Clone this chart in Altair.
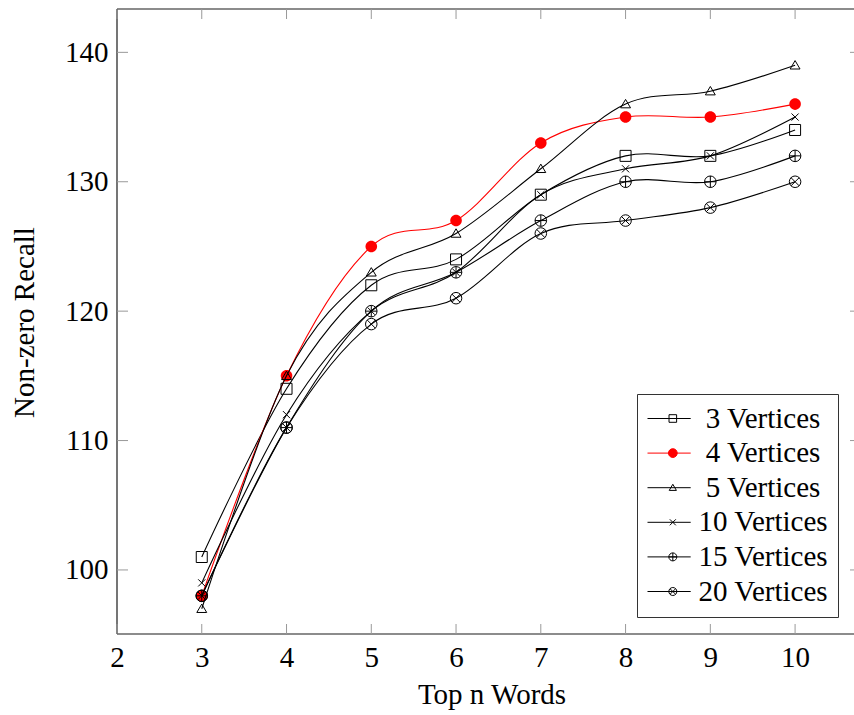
import altair as alt
import pandas as pd

# ---------------- data ----------------
x_vals = [3, 4, 5, 6, 7, 8, 9, 10]
series_names = ["3 Vertices", "4 Vertices", "5 Vertices", "10 Vertices", "15 Vertices", "20 Vertices"]
v3 = [101, 114, 122, 124, 129, 132, 132, 134]
v4 = [98, 115, 125, 127, 133, 135, 135, 136]
v5 = [97, 115, 123, 126, 131, 136, 137, 139]
v10 = [99, 112, 120, 123, 129, 131, 132, 135]
v15 = [98, 111, 120, 123, 127, 130, 130, 132]
v20 = [98, 111, 119, 121, 126, 127, 128, 130]
series_values = [v3, v4, v5, v10, v15, v20]
x_ticks = [2, 3, 4, 5, 6, 7, 8, 9, 10]
y_ticks = [100, 110, 120, 130, 140]

# ---------------- style ----------------
series_colors = ["black", "red", "black", "black", "black", "black"]
series_fills = ["transparent", "red", "transparent", "transparent", "transparent", "transparent"]
series_filled = [False, True, False, False, False, False]

W, H = 737, 625
X_DOMAIN = [2, 10.695]
Y_DOMAIN = [95.05, 143.35]
FONT = "Liberation Serif"
FS = 29


def circ(cx, r):
    return (f"M{cx + r:.3f},0A{r:.3f},{r:.3f} 0 1,1 {cx - r:.3f},0"
            f"A{r:.3f},{r:.3f} 0 1,1 {cx + r:.3f},0Z")


def square(cx, h):
    return f"M{cx - h:.3f},{-h:.3f}H{cx + h:.3f}V{h:.3f}H{cx - h:.3f}Z"


def tri(cx, h):
    return f"M{cx:.3f},{-h * 0.95:.3f}L{cx + h:.3f},{h * 0.75:.3f}H{cx - h:.3f}Z"


def cross(cx, h):
    return f"M{cx - h:.3f},{-h:.3f}L{cx + h:.3f},{h:.3f}M{cx - h:.3f},{h:.3f}L{cx + h:.3f},{-h:.3f}"


def oplus(cx, r):
    return circ(cx, r) + f"M{cx - r:.3f},0H{cx + r:.3f}M{cx:.3f},{-r:.3f}V{r:.3f}"


def otimes(cx, r):
    d = r * 0.7071
    return circ(cx, r) + (f"M{cx - d:.3f},{-d:.3f}L{cx + d:.3f},{d:.3f}"
                          f"M{cx - d:.3f},{d:.3f}L{cx + d:.3f},{-d:.3f}")


plot_paths = [square(0, 1.0), circ(0, 1.05), tri(0, 0.9), cross(0, 0.65), oplus(0, 1.05), otimes(0, 1.05)]
LC = 2.83
leg_line = "M-3.5,0H7.3"
legend_paths = [
    leg_line + square(LC, 0.95),
    leg_line + circ(LC, 1.1),
    leg_line + tri(LC, 0.9),
    leg_line + cross(LC, 0.75),
    leg_line + oplus(LC, 1.0),
    leg_line + otimes(LC, 1.0),
]

rows = []
for name, vals in zip(series_names, series_values):
    for xv, yv in zip(x_vals, vals):
        rows.append({"series": name, "x": xv, "y": yv})
df = pd.DataFrame(rows)

xscale = alt.Scale(domain=X_DOMAIN, nice=False, zero=False)
yscale = alt.Scale(domain=Y_DOMAIN, nice=False, zero=False)

x_axis = alt.Axis(values=x_ticks, title="Top n Words", ticks=False, domain=False, grid=False,
                  labelFont=FONT, labelFontSize=FS, labelColor="black", labelPadding=9,
                  labelFlush=False, labelOverlap=False,
                  titleFont=FONT, titleFontSize=FS, titleFontWeight="normal", titleColor="black",
                  titleX=374.5, titleY=69, titleBaseline="alphabetic", titleAlign="center")
y_axis = alt.Axis(values=y_ticks, title="Non-zero Recall", ticks=False, domain=False, grid=False,
                  labelFont=FONT, labelFontSize=FS, labelColor="black", labelPadding=9,
                  labelFlush=False, labelOverlap=False,
                  titleFont=FONT, titleFontSize=FS, titleFontWeight="normal", titleColor="black",
                  titleAngle=270, titleX=-84, titleY=313, titleBaseline="alphabetic", titleAlign="center")


def X(field="x"):
    return alt.X(f"{field}:Q", scale=xscale, axis=x_axis)


def Y(field="y"):
    return alt.Y(f"{field}:Q", scale=yscale, axis=y_axis)


layers = []

# frame
one = pd.DataFrame({"a": [0]})
FRAME = "#1a1a1a"
layers.append(alt.Chart(one).mark_rule(color=FRAME, strokeWidth=1.2).encode(
    x=alt.value(0), y=alt.value(0), y2=alt.value(H)))
layers.append(alt.Chart(one).mark_rule(color=FRAME, strokeWidth=1.2).encode(
    x=alt.value(0), x2=alt.value(W), y=alt.value(0)))
layers.append(alt.Chart(one).mark_rule(color=FRAME, strokeWidth=1.2).encode(
    x=alt.value(0), x2=alt.value(W), y=alt.value(H)))

# inward ticks
TICK = "#999999"
ydf = pd.DataFrame({"y": y_ticks})
xdf = pd.DataFrame({"x": x_ticks})
layers.append(alt.Chart(ydf).mark_rule(color=TICK, strokeWidth=1).encode(
    y=Y(), x=alt.value(0), x2=alt.value(11)))
layers.append(alt.Chart(ydf).mark_rule(color=TICK, strokeWidth=1).encode(
    y=Y(), x=alt.value(W - 4), x2=alt.value(W)))
layers.append(alt.Chart(xdf).mark_rule(color=TICK, strokeWidth=1).encode(
    x=X(), y=alt.value(H - 10), y2=alt.value(H)))
layers.append(alt.Chart(xdf).mark_rule(color=TICK, strokeWidth=1).encode(
    x=X(), y=alt.value(0), y2=alt.value(10)))

# series
for i, name in enumerate(series_names):
    sub = df[df["series"] == name]
    layers.append(alt.Chart(sub).mark_line(
        color=series_colors[i], strokeWidth=1.1, interpolate="cardinal", tension=0).encode(
        x=X(), y=Y()))
    layers.append(alt.Chart(sub).mark_point(
        shape=plot_paths[i], size=121, filled=series_filled[i], color=series_colors[i],
        strokeWidth=1, opacity=1).encode(x=X(), y=Y()))

# legend carrier (no visible marks)
legend_layer = alt.Chart(df).transform_filter("false").mark_point(size=64, strokeWidth=1, opacity=1).encode(
    x=X(), y=Y(),
    shape=alt.Shape("series:N", scale=alt.Scale(domain=series_names, range=legend_paths),
                    legend=alt.Legend(title=None)),
    stroke=alt.Stroke("series:N", scale=alt.Scale(domain=series_names, range=series_colors),
                      legend=alt.Legend(title=None)),
    fill=alt.Fill("series:N", scale=alt.Scale(domain=series_names, range=series_fills),
                  legend=alt.Legend(title=None)),
)
layers.append(legend_layer)

chart = alt.layer(*layers).properties(
    width=W, height=H,
    autosize=alt.AutoSizeParams(type="none"),
    padding={"left": 117, "top": 9, "right": 0, "bottom": 715 - 9 - H},
    background="white",
).configure_view(stroke=None).configure_legend(
    orient="none", legendX=520, legendY=385, padding=10,
    strokeColor="#333333", fillColor="white", cornerRadius=0,
    labelFont=FONT, labelFontSize=FS, labelColor="black", labelAlign="center",
    labelOffset=87, labelLimit=400, rowPadding=4.6, symbolSize=64, symbolStrokeWidth=1,
)

chart.save("out.html", embed_options={"renderer": "svg", "actions": False})
